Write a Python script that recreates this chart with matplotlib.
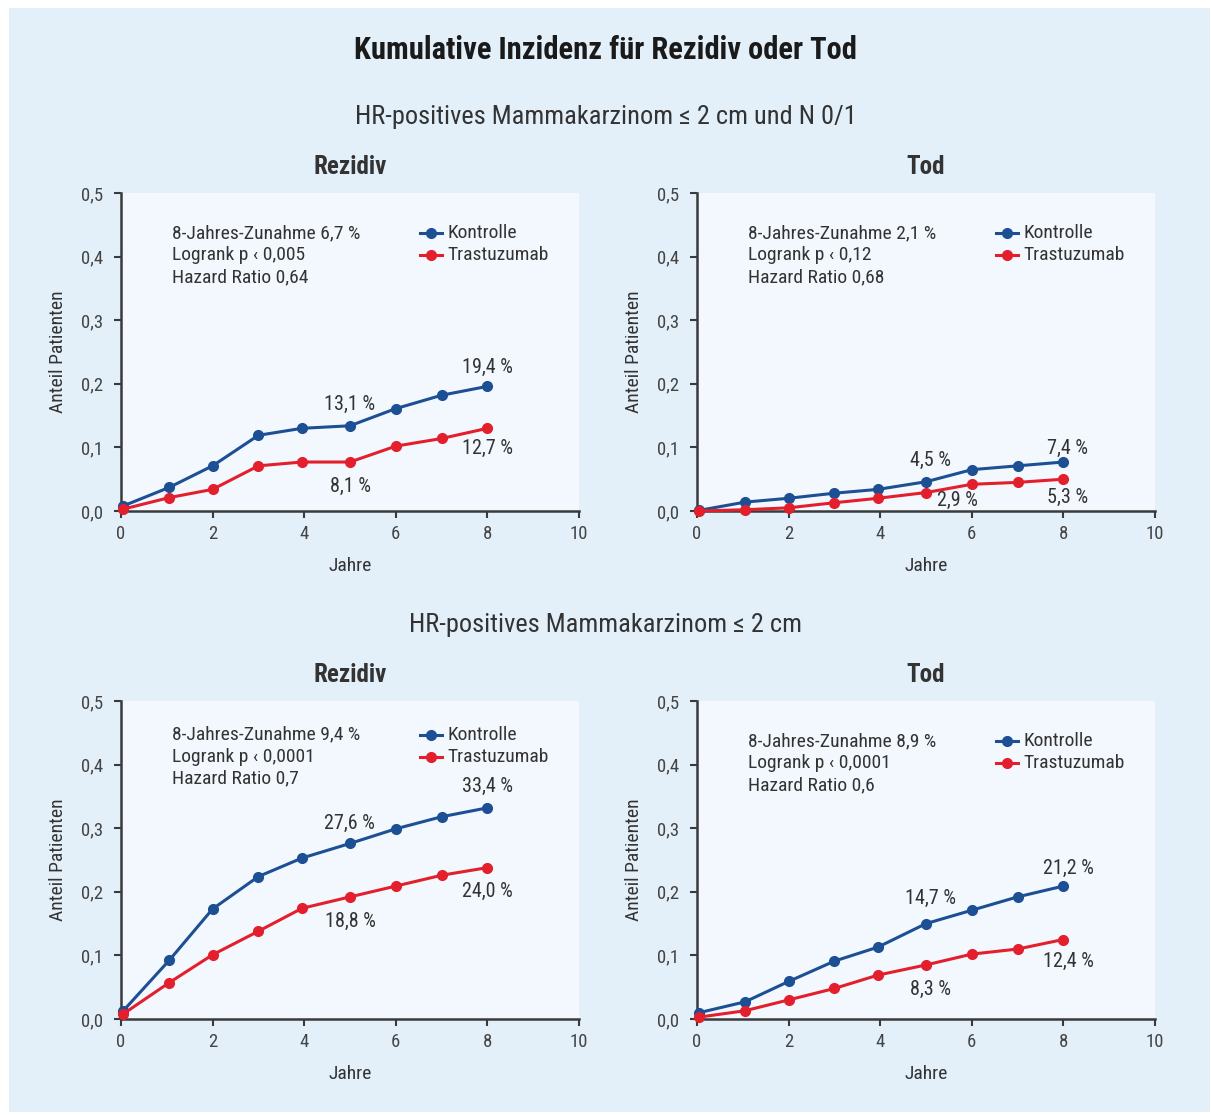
import numpy as np
import matplotlib
matplotlib.use("Agg")
from matplotlib import pyplot as plt
from matplotlib import font_manager
from matplotlib.patches import Rectangle

# schmale schrift suchen, sonst Liberation Sans
vorhanden = set(f.name for f in font_manager.fontManager.ttflist)
schrift = 'DejaVu Sans'
for name in ['Liberation Sans Narrow', 'Roboto Condensed', 'Open Sans Condensed', 'Liberation Sans']:
    if name in vorhanden:
        schrift = name
        break
plt.rcParams['font.family'] = [schrift, 'DejaVu Sans']

# daten der vier panels
jahre = [0.05, 1.05, 2, 3, 3.95, 5, 6, 7, 8]

rez1_kontrolle = [0.008, 0.037, 0.071, 0.119, 0.130, 0.134, 0.161, 0.182, 0.196]
rez1_trastu    = [0.003, 0.021, 0.034, 0.071, 0.077, 0.077, 0.102, 0.114, 0.130]
tod1_kontrolle = [0.001, 0.014, 0.020, 0.028, 0.034, 0.046, 0.065, 0.071, 0.077]
tod1_trastu    = [0.000, 0.002, 0.005, 0.013, 0.020, 0.029, 0.042, 0.045, 0.050]
rez2_kontrolle = [0.013, 0.092, 0.173, 0.224, 0.253, 0.276, 0.299, 0.318, 0.332]
rez2_trastu    = [0.008, 0.057, 0.101, 0.138, 0.174, 0.192, 0.209, 0.226, 0.238]
tod2_kontrolle = [0.010, 0.027, 0.059, 0.091, 0.113, 0.150, 0.171, 0.192, 0.209]
tod2_trastu    = [0.003, 0.013, 0.030, 0.048, 0.069, 0.085, 0.102, 0.110, 0.125]

infos = [
    ["8-Jahres-Zunahme 6,7 %", "Logrank p \u2039 0,005", "Hazard Ratio 0,64"],
    ["8-Jahres-Zunahme 2,1 %", "Logrank p \u2039 0,12", "Hazard Ratio 0,68"],
    ["8-Jahres-Zunahme 9,4 %", "Logrank p \u2039 0,0001", "Hazard Ratio 0,7"],
    ["8-Jahres-Zunahme 8,9 %", "Logrank p \u2039 0,0001", "Hazard Ratio 0,6"],
]

# beschriftungen der werte: (text, x, y)
werte = [
    [("19,4 %", 8, 0.225), ("13,1 %", 4.98, 0.167), ("12,7 %", 8, 0.099), ("8,1 %", 5.0, 0.039)],
    [("7,4 %", 8.1, 0.099), ("4,5 %", 5.09, 0.079), ("2,9 %", 5.68, 0.017), ("5,3 %", 8.1, 0.022)],
    [("33,4 %", 8, 0.365), ("27,6 %", 4.98, 0.307), ("24,0 %", 8, 0.200), ("18,8 %", 5.0, 0.153)],
    [("21,2 %", 8.1, 0.237), ("14,7 %", 5.09, 0.189), ("12,4 %", 8.1, 0.091), ("8,3 %", 5.09, 0.046)],
]

titel = ["Rezidiv", "Tod", "Rezidiv", "Tod"]
serien = [(rez1_kontrolle, rez1_trastu), (tod1_kontrolle, tod1_trastu),
          (rez2_kontrolle, rez2_trastu), (tod2_kontrolle, tod2_trastu)]
info_y = [0.437, 0.437, 0.447, 0.437]

blau = '#1d4f94'
rot = '#e41f2d'
hg = '#e3f0fa'
hg_plot = '#f2f8fd'
achse = '#3a3a3a'
text_c = '#333333'

fig = plt.figure(figsize=(12.11, 11.15), dpi=100)
fig.patch.set_facecolor('white')
fig.patches.append(Rectangle((9/1211, 1-1112/1115), 1201/1211, 1104/1115,
                             transform=fig.transFigure, facecolor=hg, edgecolor='none', zorder=-10))

positionen = [
    [121/1211, 1-511/1115, 458/1211, 318/1115],
    [697/1211, 1-511/1115, 458/1211, 318/1115],
    [121/1211, 1-1019/1115, 458/1211, 318/1115],
    [697/1211, 1-1019/1115, 458/1211, 318/1115],
]

fs = 14  # schrift im diagramm

for i in range(4):
    ax = fig.add_axes(positionen[i])
    ax.set_facecolor(hg_plot)
    k, t = serien[i]
    ax.plot(jahre, k, '-o', color=blau, lw=2.2, ms=7, zorder=3, clip_on=False)
    ax.plot(jahre, t, '-o', color=rot, lw=2.2, ms=7, zorder=3, clip_on=False)
    ax.set_xlim(0, 10)
    ax.set_ylim(0, 0.5)
    ax.set_xticks([0, 2, 4, 6, 8, 10])
    ax.set_yticks([0, 0.1, 0.2, 0.3, 0.4, 0.5])
    ax.set_yticklabels(['0,0', '0,1', '0,2', '0,3', '0,4', '0,5'])
    for s in ['top', 'right']:
        ax.spines[s].set_visible(False)
    for s in ['left', 'bottom']:
        ax.spines[s].set_color(achse)
        ax.spines[s].set_linewidth(1.8)
    ax.tick_params(colors=achse, labelcolor='#444444', labelsize=13.5, width=1.5, length=5)
    ax.tick_params(axis='y', pad=8)
    ax.tick_params(axis='x', pad=5)
    ax.set_xlabel('Jahre', fontsize=fs, color=text_c, labelpad=10)
    ax.set_ylabel('Anteil Patienten', fontsize=fs, color=text_c, labelpad=10)
    ax.set_title(titel[i], fontsize=18, fontweight='bold', color=text_c, pad=14)

    for j, zeile in enumerate(infos[i]):
        ax.text(1.12, info_y[i] - j * 0.0346, zeile, fontsize=fs, color=text_c, va='center')
    # legende von hand
    ly = info_y[i]
    ax.plot([6.53, 7.0], [ly, ly], color=blau, lw=2.2)
    ax.plot([6.76], [ly], 'o', color=blau, ms=7)
    ax.text(7.12, ly, 'Kontrolle', fontsize=fs, color=text_c, va='center')
    ax.plot([6.53, 7.0], [ly - 0.0346, ly - 0.0346], color=rot, lw=2.2)
    ax.plot([6.76], [ly - 0.0346], 'o', color=rot, ms=7)
    ax.text(7.12, ly - 0.0346, 'Trastuzumab', fontsize=fs, color=text_c, va='center')

    for txt, x, y in werte[i]:
        ax.text(x, y, txt, fontsize=14.5, color=text_c, ha='center', va='center')

fig.text(0.5, 1-50/1115, 'Kumulative Inzidenz für Rezidiv oder Tod', fontsize=22,
         fontweight='bold', color='#1a1a1a', ha='center', va='center')
fig.text(0.5, 1-117/1115, 'HR-positives Mammakarzinom \u2264 2 cm und N 0/1', fontsize=19,
         color=text_c, ha='center', va='center')
fig.text(0.5, 1-625/1115, 'HR-positives Mammakarzinom \u2264 2 cm', fontsize=19,
         color=text_c, ha='center', va='center')

plt.savefig('out.png', dpi=100, facecolor=fig.get_facecolor())
